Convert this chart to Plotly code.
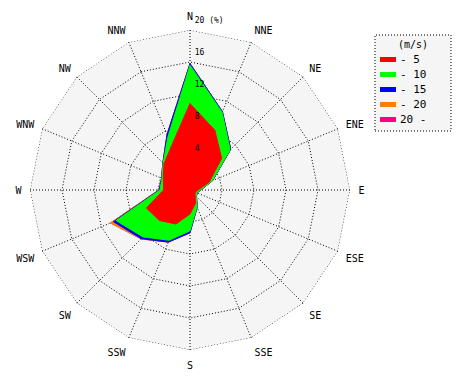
import plotly.graph_objects as go

directions = ["N", "NNE", "NE", "ENE", "E", "ESE", "SE", "SSE",
              "S", "SSW", "SW", "WSW", "W", "WNW", "NW", "NNW"]

# cumulative frequency (%) per speed class
cum_5 = [10.8, 8.1, 5.6, 2.6, 1.0, 0.7, 0.9, 1.8, 3.0, 4.6, 5.4, 5.9, 3.3, 3.6, 4.6, 6.0]
cum_10 = [15.6, 10.5, 7.1, 3.0, 1.3, 0.9, 1.1, 2.3, 5.1, 6.8, 8.3, 10.0, 3.75, 3.8, 4.75, 7.2]
cum_15 = [15.8, 10.6, 7.2, 3.05, 1.35, 0.95, 1.15, 2.35, 5.35, 7.05, 8.6, 10.35, 3.85, 3.85, 4.8, 7.5]
cum_20 = [15.8, 10.6, 7.2, 3.05, 1.35, 0.95, 1.15, 2.35, 5.35, 7.05, 8.65, 10.75, 3.9, 3.85, 4.8, 7.5]
cum_20p = [15.8, 10.6, 7.2, 3.05, 1.35, 0.95, 1.15, 2.35, 5.35, 7.05, 8.65, 10.75, 3.9, 3.85, 4.8, 7.5]

class_names = ["- 5", "- 10", "- 15", "- 20", "20 -"]
class_colors = ["#ff0000", "#00ff00", "#0000ff", "#ff8000", "#ff0080"]
series = [cum_5, cum_10, cum_15, cum_20, cum_20p]

radial_ticks = [0, 4, 8, 12, 16, 20]
radial_text = ["0", "4", "8", "12", "16", "20 (%)"]
r_max = 20

FONT = "DejaVu Sans Mono"
W, H = 470, 380

fig = go.Figure()
# draw outermost class first so inner classes sit on top
for name, color, vals in reversed(list(zip(class_names, class_colors, series))):
    fig.add_trace(go.Scatterpolar(
        r=vals + vals[:1],
        theta=directions + directions[:1],
        mode="lines",
        fill="toself",
        fillcolor=color,
        line=dict(color=color, width=1),
        name=name,
        hoverinfo="skip",
        showlegend=False,
    ))

# outer dotted ring
fig.add_trace(go.Scatterpolar(
    r=[r_max] * (len(directions) + 1),
    theta=directions + directions[:1],
    mode="lines",
    line=dict(color="black", width=1, dash="1px,2px"),
    hoverinfo="skip",
    showlegend=False,
))

# radial tick labels along the N spoke
fig.add_trace(go.Scatterpolar(
    r=radial_ticks,
    theta=["N"] * len(radial_ticks),
    mode="markers+text",
    marker=dict(size=6, color="rgba(0,0,0,0)"),
    text=radial_text,
    textposition="top right",
    textfont=dict(family=FONT, size=8, color="black"),
    cliponaxis=False,
    hoverinfo="skip",
    showlegend=False,
))

# manual legend (box, title, colour bars, labels)
box_x0, box_x1, box_y0, box_y1 = 375, 451, 35, 131
shapes = [dict(type="rect", xref="paper", yref="paper",
               x0=box_x0 / W, x1=box_x1 / W, y0=1 - box_y1 / H, y1=1 - box_y0 / H,
               fillcolor="#f5f5f5", line=dict(color="black", width=1, dash="1px,2px"),
               layer="below")]
annotations = [dict(text="(m/s)", xref="paper", yref="paper", x=413 / W, y=1 - 44 / H,
                    xanchor="center", yanchor="middle", showarrow=False,
                    font=dict(family=FONT, size=10, color="black"))]
for i, (name, color) in enumerate(zip(class_names, class_colors)):
    yc = 59.5 + 15 * i
    shapes.append(dict(type="rect", xref="paper", yref="paper",
                       x0=380 / W, x1=396 / W, y0=1 - (yc + 2.5) / H, y1=1 - (yc - 2.5) / H,
                       fillcolor=color, line=dict(width=0)))
    annotations.append(dict(text=name, xref="paper", yref="paper", x=398 / W, y=1 - yc / H,
                            xanchor="left", yanchor="middle", showarrow=False,
                            font=dict(family=FONT, size=11, color="black")))

fig.update_layout(
    width=W, height=H,
    margin=dict(l=0, r=0, t=0, b=0),
    paper_bgcolor="white",
    font=dict(family=FONT, size=10, color="black"),
    showlegend=False,
    shapes=shapes,
    annotations=annotations,
    polar=dict(
        domain=dict(x=[30 / W, 350 / W], y=[30 / H, 350 / H]),
        bgcolor="#f5f5f5",
        gridshape="linear",
        radialaxis=dict(
            range=[0, r_max],
            tickvals=radial_ticks,
            showticklabels=False,
            angle=90,
            showline=False,
            ticks="",
            gridcolor="black",
            griddash="1px,2px",
            gridwidth=1,
            layer="above traces",
        ),
        angularaxis=dict(
            type="category",
            categoryarray=directions,
            rotation=90,
            direction="clockwise",
            showline=False,
            ticks="outside",
            ticklen=6,
            tickcolor="rgba(0,0,0,0)",
            gridcolor="black",
            griddash="1px,2px",
            gridwidth=1,
            tickfont=dict(family=FONT, size=10),
            layer="above traces",
        ),
    ),
)

fig.write_html("out.html", config={"displayModeBar": False},
               post_script="document.body.style.margin='0px';")
